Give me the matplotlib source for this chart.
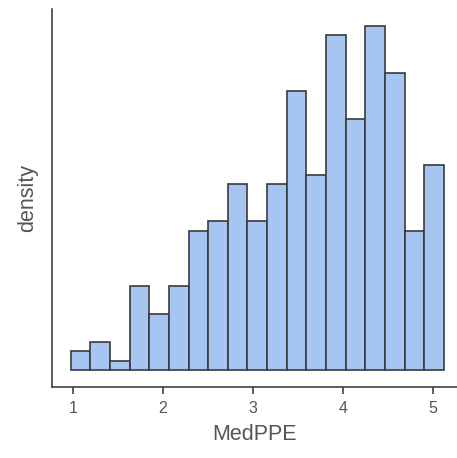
import matplotlib
matplotlib.use("Agg")
import matplotlib.pyplot as plt
import numpy as np

plt.rcParams['font.family'] = ['Liberation Sans', 'DejaVu Sans']

bin_start = 0.974
bin_width = 0.2183
counts = [2, 3, 1, 9, 6, 9, 15, 16, 20, 16, 20, 30, 21, 36, 27, 37, 32, 15, 22]
xticks = [1, 2, 3, 4, 5]

counts = np.array(counts, dtype=float)
n = counts.sum()
density = counts / (n * bin_width)
lefts = bin_start + bin_width * np.arange(len(counts))

fig = plt.figure(figsize=(4.57, 4.58), dpi=100)
ax = fig.add_axes([52/457, 1 - 387/458, (457 - 52)/457, (387 - 9)/458])

ax.bar(lefts, density, width=bin_width, align='edge', color='#a7c5f1',
       edgecolor='#3a3a3a', linewidth=1.2)

top = density.max()
ax.set_ylim(-0.05 * top, 1.05 * top)
span = bin_width * len(counts)
ax.set_xlim(bin_start - 0.05 * span, bin_start - 0.05 * span + (457 - 52) / 90.0)

ax.set_xticks(xticks)
ax.set_xticklabels([str(t) for t in xticks])
ax.set_yticks([])
for s in ['top', 'right']:
    ax.spines[s].set_visible(False)
for s in ['left', 'bottom']:
    ax.spines[s].set_color('#333333')
    ax.spines[s].set_linewidth(1.1)
ax.tick_params(axis='x', colors='#333333', length=5, width=1.1, labelsize=11.5,
               labelcolor='#555555', pad=5)
ax.set_xlabel('MedPPE', fontsize=15.5, color='#555555', labelpad=6)
ax.set_ylabel('density', fontsize=15.5, color='#555555', labelpad=10)

fig.savefig('out.png', dpi=100)
